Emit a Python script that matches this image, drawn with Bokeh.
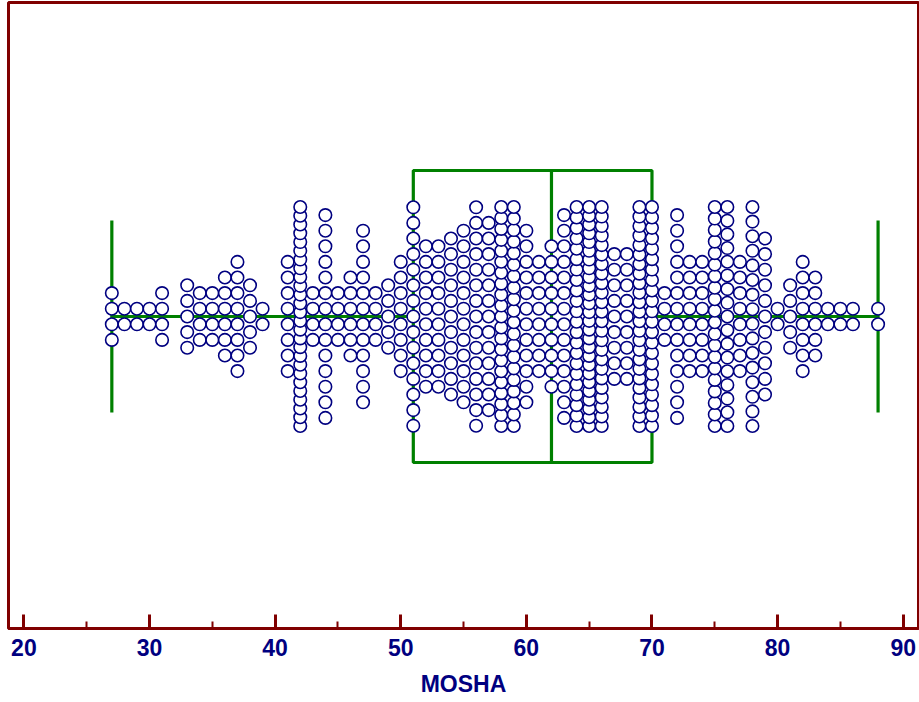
import numpy as np
from bokeh.plotting import figure
from bokeh.models import Range1d, SingleIntervalTicker, ColumnDataSource
from bokeh.embed import file_html
from bokeh.resources import INLINE

# Ages (MOSHA) and number of patients at each age
ages = [27, 28, 29, 30, 31, 33, 34, 35, 36, 37, 38, 39,
        41, 42, 43, 44, 45, 46, 47, 48, 49, 50,
        51, 52, 53, 54, 55, 56, 57, 58, 59, 60,
        61, 62, 63, 64, 65, 66, 67, 68, 69, 70,
        71, 72, 73, 74, 75, 76, 77, 78, 79, 80,
        81, 82, 83, 84, 85, 86, 88]
counts = [4, 2, 2, 2, 4, 5, 4, 4, 6, 8, 5, 2,
          8, 26, 4, 14, 4, 6, 12, 4, 5, 8,
          15, 10, 10, 11, 12, 15, 13, 21, 20, 12,
          8, 10, 14, 22, 26, 24, 9, 9, 24, 22,
          4, 14, 8, 8, 20, 17, 8, 16, 11, 2,
          5, 8, 6, 2, 2, 2, 2]
tick_values = [20, 30, 40, 50, 60, 70, 80, 90]

DARK_RED = "#800000"
NAVY = "#000080"
GREEN = "#008000"

# dot stacking: regular spacing, squeezed when a column would get too tall
DOT_STEP = 15.6
MAX_SPAN = 219.0

xs, ys = [], []
for a, n in zip(ages, counts):
    step = min(DOT_STEP, MAX_SPAN / (n - 1)) if n > 1 else 0.0
    for i in range(n):
        xs.append(a)
        ys.append((i - (n - 1) / 2.0) * step)
dots = ColumnDataSource(dict(x=xs, y=ys))

sample = np.repeat(ages, counts)
q1, med, q3 = np.percentile(sample, [25, 50, 75])
lo, hi = sample.min(), sample.max()

BOX_HALF = 146
CAP_HALF = 96

p = figure(frame_width=910, frame_height=626,
           x_range=Range1d(18.774, 91.218), y_range=Range1d(-312, 314),
           output_backend="svg", toolbar_location=None,
           y_axis_location=None,
           min_border_left=8, min_border_right=1, min_border_top=2,
           min_border_bottom=0,
           outline_line_color=DARK_RED, outline_line_width=3,
           background_fill_color="white", border_fill_color="white")
p.xgrid.visible = False
p.ygrid.visible = False

# box and whiskers
p.quad(left=[q1], right=[q3], bottom=[-BOX_HALF], top=[BOX_HALF],
       fill_alpha=0, line_color=GREEN, line_width=3.2)
p.segment(x0=[med], x1=[med], y0=[-BOX_HALF], y1=[BOX_HALF],
          line_color=GREEN, line_width=3.2)
p.segment(x0=[lo, q3], x1=[q1, hi], y0=[0, 0], y1=[0, 0],
          line_color=GREEN, line_width=3.2)
p.segment(x0=[lo, hi], x1=[lo, hi], y0=[-CAP_HALF, -CAP_HALF],
          y1=[CAP_HALF, CAP_HALF], line_color=GREEN, line_width=3.2)

# individual observations
p.scatter("x", "y", source=dots, marker="circle", size=12.5,
          fill_color="white", line_color=NAVY, line_width=1.6)

ax = p.xaxis[0]
ax.ticker = SingleIntervalTicker(interval=10, num_minor_ticks=2)
ax.major_label_overrides = {v: str(v) for v in tick_values}
ax.axis_line_color = DARK_RED
ax.axis_line_width = 3
ax.major_tick_line_color = DARK_RED
ax.major_tick_line_width = 3
ax.major_tick_in = 14
ax.major_tick_out = 0
ax.minor_tick_line_color = DARK_RED
ax.minor_tick_line_width = 2
ax.minor_tick_in = 7
ax.minor_tick_out = 0
ax.major_label_standoff = 10
ax.major_label_text_font = "Liberation Sans"
ax.major_label_text_font_style = "bold"
ax.major_label_text_font_size = "23px"
ax.major_label_text_color = NAVY
ax.axis_label = "MOSHA"
ax.axis_label_standoff = 12
ax.axis_label_text_font = "Liberation Sans"
ax.axis_label_text_font_style = "bold"
ax.axis_label_text_font_size = "23px"
ax.axis_label_text_color = NAVY

open("out.html", "w").write(file_html(p, INLINE))
